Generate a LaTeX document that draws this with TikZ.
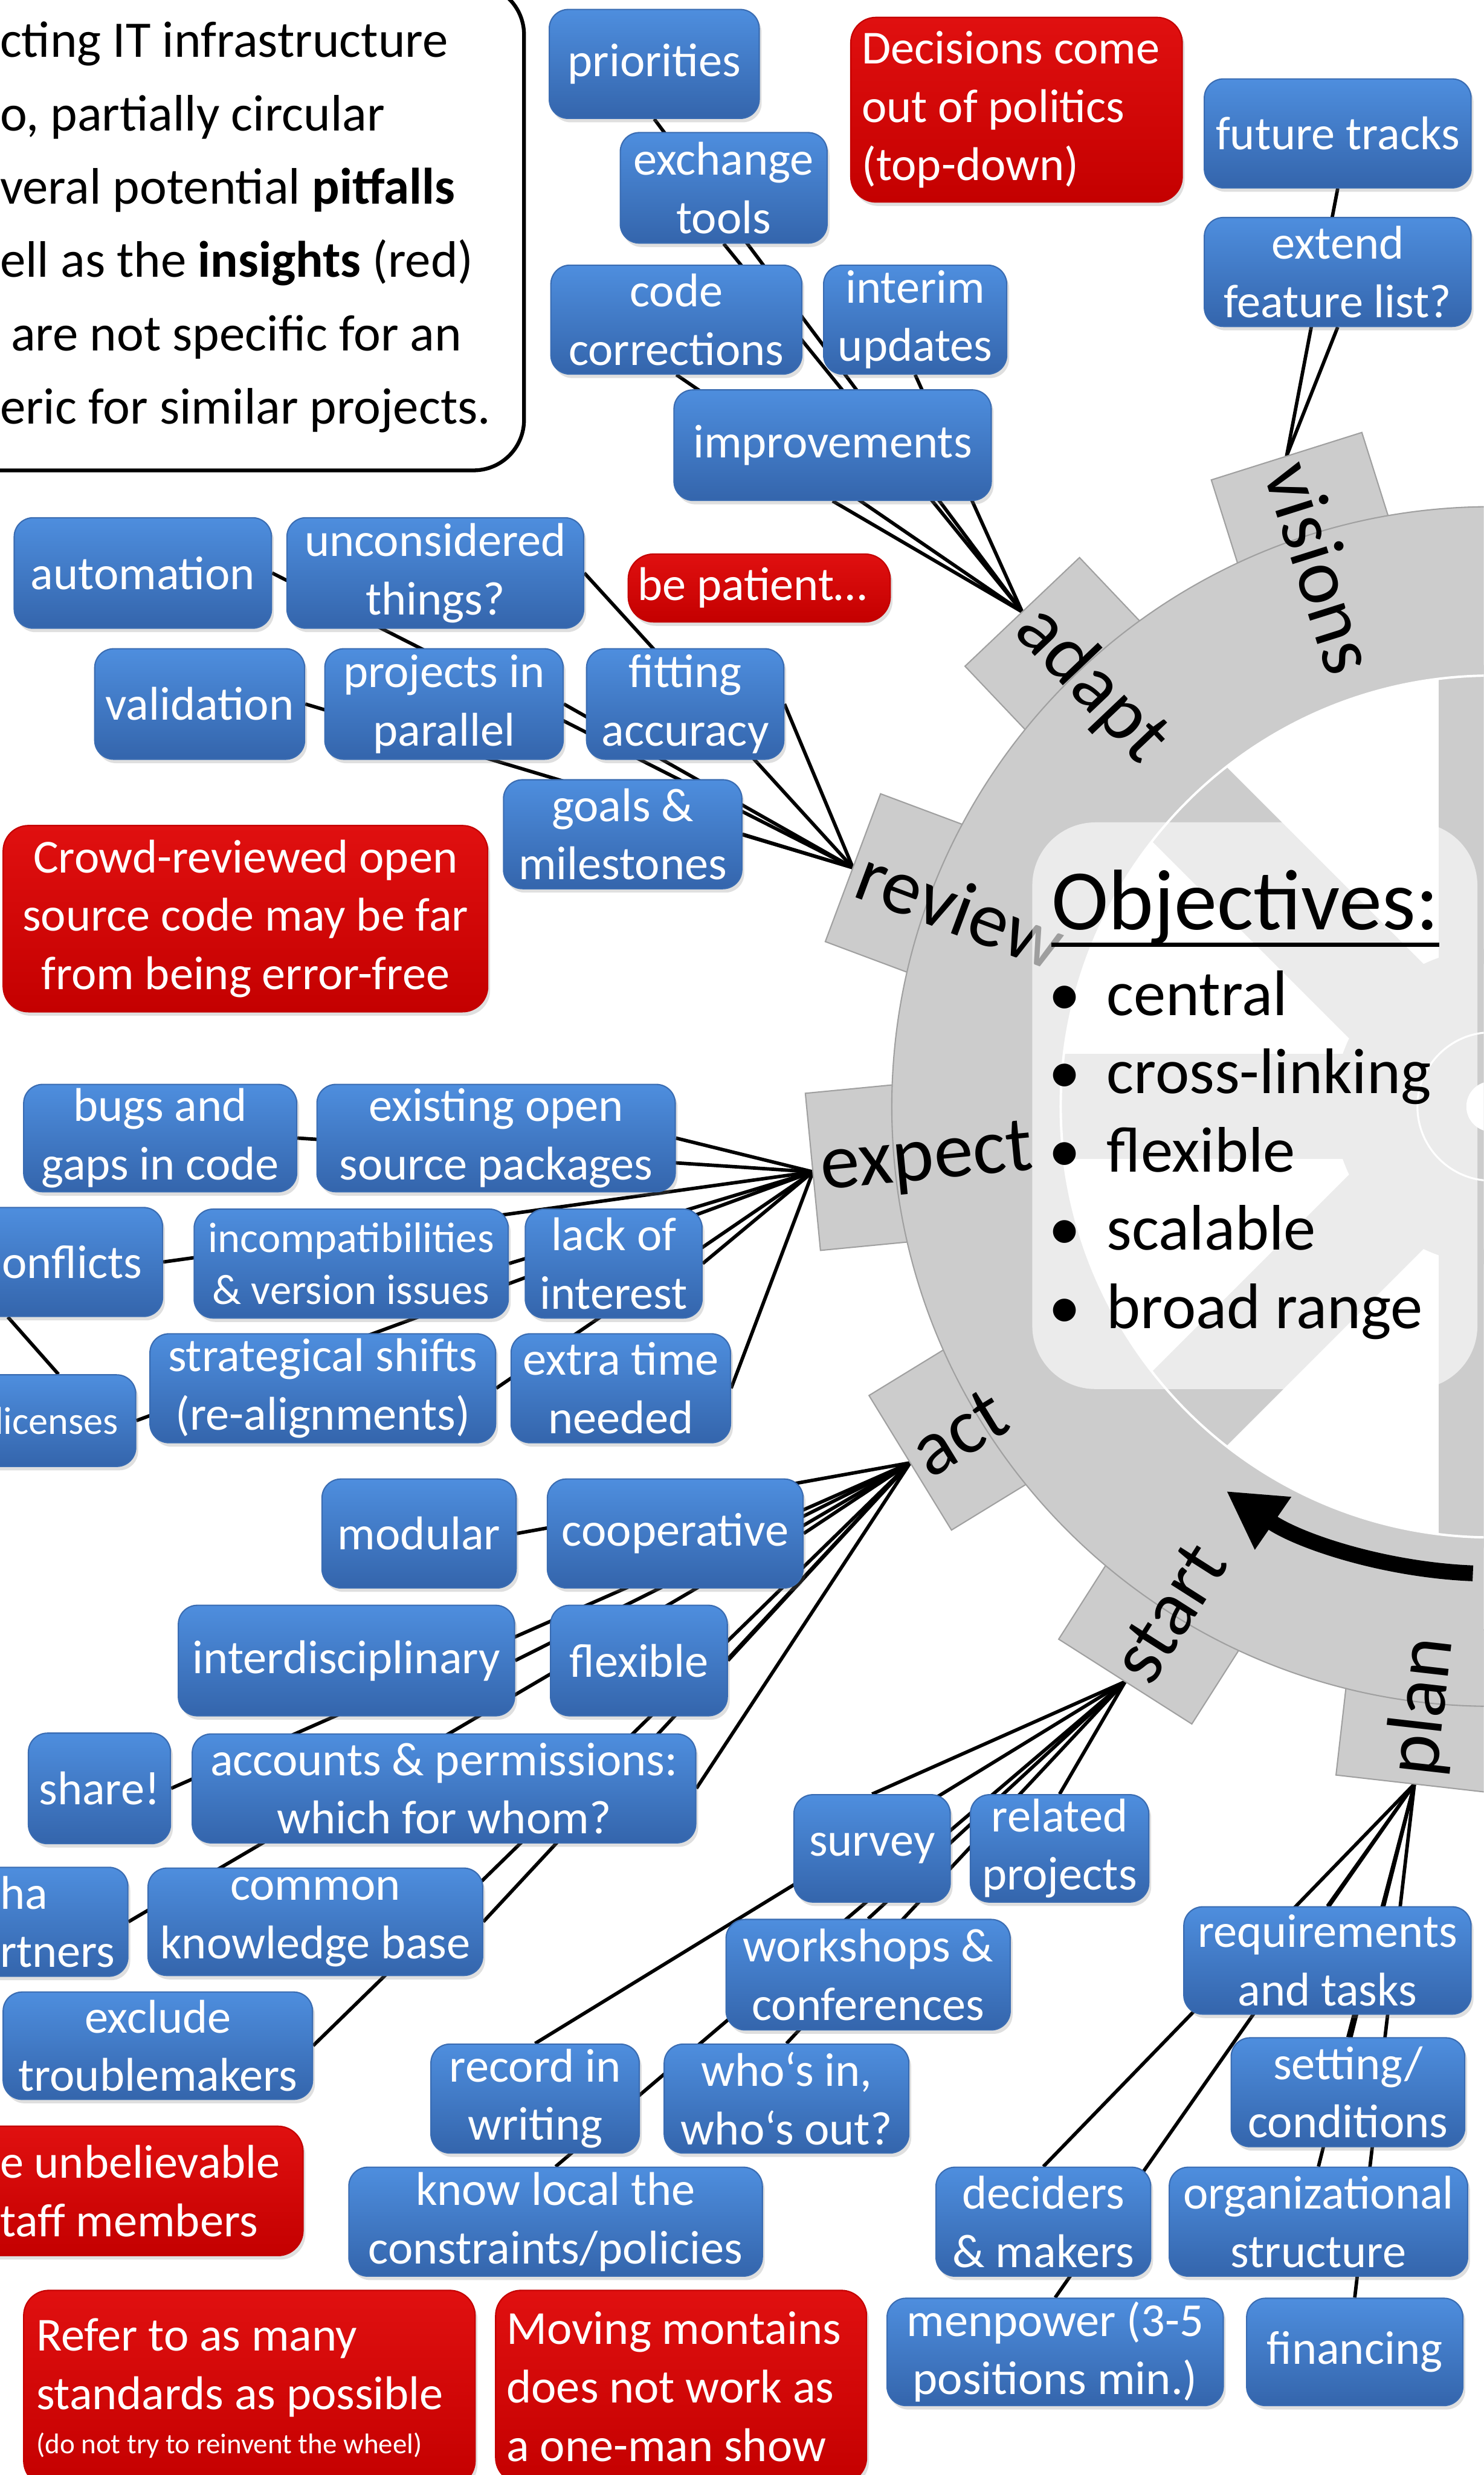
\documentclass[tikz,border=0pt]{standalone}
\usepackage{fontspec}
\setmainfont{Carlito}
\usetikzlibrary{arrows.meta,positioning,backgrounds,shadows}

\definecolor{ideatop}{RGB}{78,142,222}
\definecolor{ideabot}{RGB}{52,101,172}
\definecolor{ideaedge}{RGB}{58,108,178}
\definecolor{insighttop}{RGB}{224,16,16}
\definecolor{insightbot}{RGB}{196,0,0}
\definecolor{gearfill}{RGB}{204,204,204}
\definecolor{gearedge}{RGB}{160,160,160}

\newcommand{\ideafont}{\fontsize{30}{37}\selectfont}

\begin{document}
\begin{tikzpicture}[x=1pt,y=-1pt,
  dims/.style 2 args={minimum width=#1,minimum height=#2},
  idea/.style={rounded corners=12,top color=ideatop,bottom color=ideabot,draw=ideaedge,
    line width=0.8,text=white,align=center,font=\ideafont,inner sep=2,
    drop shadow={shadow xshift=1.5pt,shadow yshift=-2.5pt,opacity=.25}},
  insight/.style={idea,rounded corners=16,top color=insighttop,bottom color=insightbot,draw=insightbot},
  flush/.style={align=left,execute at begin node={\spaceskip=0pt\xspaceskip=0pt\leftskip=#1}},
  flush/.default=0pt,
  note/.style={draw,line width=2.4,fill=white,rounded corners=32,
    font=\fontsize{32.5}{46.5}\selectfont},
  stage/.style={anchor=west,inner xsep=5,inner ysep=0,font=\fontsize{50}{60}\selectfont},
  tooth/.style={fill=gearfill,draw=gearedge,line width=0.8},
  spoke/.style={fill=gearfill,draw=white,line width=1.2},
  panel/.style={fill=white,fill opacity=.62,rounded corners=40,inner sep=0},
  objtitle/.style={inner sep=0,anchor=base west,font=\fontsize{54.5}{60}\selectfont},
  objitem/.style={inner sep=0,anchor=base west,font=\fontsize{40.8}{50}\selectfont},
  turnarrow/.style={line width=10,-{Triangle[length=36pt,width=38pt]}},
  link/.style={line width=2.2}
]
\useasboundingbox (0,0) rectangle (940,1568);
\clip (0,0) rectangle (940,1568);

% the gear
\coordinate (hub) at (945,701);
\foreach \a in {0,45,...,315}
  \draw[spoke,shift={(hub)},rotate=\a] (90,-34) rectangle (280,34);
\fill[gearfill] (hub) circle[radius=100];
\draw[white,line width=1.2] (hub) circle[radius=47];
\fill[white] (hub) circle[radius=16];
\foreach \a in {107.5,133.5,...,263.5}
  \draw[tooth,shift={(hub)},rotate=\a] (330,-50) rectangle (432,50);
\fill[gearfill,even odd rule] (hub) circle[radius=380] (hub) circle[radius=273];
\draw[gearedge,line width=0.8] (hub) circle[radius=380];
\draw[white,line width=1.5] (hub) circle[radius=273];
\draw[turnarrow] ([shift={(-267.7:296)}]hub) arc[start angle=-267.7,end angle=-235.4,radius=296];
\foreach \a/\n in {107.5/visions,133.5/adapt,159.5/review,185.5/expect,211.5/act,237.5/start,263.5/plan}
  \node[stage,rotate=\a-180] (\n) at ([shift={(-\a:432)}]hub) {\n};

% objectives
\node[panel,dims={282}{359}] (panel) at (795,700.5) {};
\node[objtitle] (objtitle) at (666,589) {Objectives:};
\draw[line width=3] (objtitle.south west) -- (objtitle.south east);
\foreach \w [count=\i] in {central,cross-linking,flexible,scalable,broad range}
  \node[objitem] (obj\i) at (664,593.6+49.6*\i) {\makebox[37pt][l]{\textbullet}\w};

\node[note,dims={372}{308},text width=372,inner xsep=0,flush=40pt] (note) at (146,144) {cting IT infrastructure\\
o, partially circular\\
veral potential \textbf{pitfalls}\\
ell as the \textbf{insights} (red)\\
\hspace*{7pt}are not specific for an\\
eric for similar projects.};

% adapt
\node[idea,dims={133}{69}] (priorities) at (414.5,40.5) {priorities};
\node[idea,dims={131}{70}] (exchange) at (458.5,119) {exchange\\tools};
\node[idea,dims={159}{69}] (code) at (428.5,202.5) {code\\corrections};
\node[idea,dims={116}{69},right=13pt of code] (interim) {interim\\updates};
\node[idea,dims={201}{70}] (improvements) at (527.5,282) {improvements};
\node[insight,dims={210}{117},text width=196,inner xsep=7,flush] (politics) at (644,69.5) {Decisions come\\out of politics\\(top-down)};

% visions
\node[idea,dims={169}{69}] (future) at (847.5,84.5) {future tracks};
\node[idea,dims={169}{69},below=18pt of future] (extend) {extend\\feature list?};

% review
\node[idea,dims={163}{70}] (automation) at (90.5,363) {automation};
\node[idea,dims={188}{70},right=9pt of automation] (unconsidered) {unconsidered\\things?};
\node[insight,dims={166}{43},text width=154,inner xsep=6,flush] (patient) at (481,372.5) {be patient…};
\node[idea,dims={133}{70}] (validation) at (126.5,446) {validation};
\node[idea,dims={151}{70},right=12pt of validation] (projects) {projects in\\parallel};
\node[idea,dims={125}{70},right=14pt of projects] (fitting) {fitting\\accuracy};
\node[idea,dims={151}{69}] (goals) at (394.5,528.5) {goals \&\\milestones};
\node[insight,dims={307}{118}] (crowd) at (155.5,582) {Crowd-reviewed open\\source code may be far\\from being error-free};

% expect
\node[idea,dims={173}{68}] (bugs) at (101.5,721) {bugs and\\gaps in code};
\node[idea,dims={227}{68},right=12pt of bugs] (existing) {existing open\\source packages};
\node[idea,dims={143}{69},text width=117,inner xsep=13,align=right] (conflicts) at (31.5,799.5) {onflicts};
\node[idea,dims={199}{69},font=\fontsize{27}{33}\selectfont] (incompat) at (222.5,800.5) {incompatibilities\\\& version issues};
\node[idea,dims={112}{69},right=10pt of incompat] (lack) {lack of\\interest};
\node[idea,dims={126}{58},text width=104,inner xsep=11,align=right,font=\fontsize{24.6}{30}\selectfont] (licenses) at (23,900) {licenses};
\node[idea,dims={219}{69}] (strategical) at (204.5,879.5) {strategical shifts\\(re-alignments)};
\node[idea,dims={139}{69},right=9pt of strategical] (extratime) {extra time\\needed};

% act
\node[idea,dims={123}{69}] (modular) at (265.5,971.5) {modular};
\node[idea,dims={162}{69},right=19pt of modular] (cooperative) {cooperative};
\node[idea,dims={213}{70}] (interdisc) at (219.5,1052) {interdisciplinary};
\node[idea,dims={112}{70},right=22pt of interdisc] (flexible) {flexible};
\node[idea,dims={90}{70}] (share) at (63,1133) {share!};
\node[idea,dims={319}{69},right=13pt of share] (accounts) {accounts \& permissions:\\which for whom?};
\node[idea,dims={121}{69},text width=121,inner xsep=0,flush=40pt] (partners) at (20.5,1217.5) {ha\\rtners};
\node[idea,dims={212}{68},right=12pt of partners] (knowledge) {common\\knowledge base};
\node[idea,dims={196}{68}] (exclude) at (100,1296) {exclude\\troublemakers};
\node[insight,dims={232}{82},text width=232,inner xsep=0,flush=40pt] (staff) at (76,1388) {e unbelievable\\taff members};
\node[insight,dims={286}{124},text width=270,inner xsep=8,flush] (standards) at (158,1513) {Refer to as many\\standards as possible\\[-9pt]{\fontsize{18}{22}\selectfont(do not try to reinvent the wheel)}};
\node[insight,dims={235}{122},text width=221,inner xsep=7,flush] (oneman) at (431.5,1512) {Moving montains\\does not work as\\a one-man show};

% start
\node[idea,dims={99}{68}] (survey) at (552.5,1171) {survey};
\node[idea,dims={113}{68},right=12pt of survey] (related) {related\\projects};
\node[idea,dims={180}{70}] (workshops) at (550,1251) {workshops \&\\conferences};
\node[idea,dims={132}{69}] (record) at (339,1329.5) {record in\\writing};
\node[idea,dims={155}{69},right=15pt of record] (whosin) {who‘s in,\\who‘s out?};
\node[idea,dims={262}{69}] (knowlocal) at (352,1407.5) {know local the\\constraints/policies};

% plan
\node[idea,dims={182}{68}] (requirements) at (841,1242) {requirements\\and tasks};
\node[idea,dims={148}{69}] (setting) at (854,1325.5) {setting/\\conditions};
\node[idea,dims={136}{69}] (deciders) at (661,1407.5) {deciders\\\& makers};
\node[idea,dims={189}{69},right=11pt of deciders] (organizational) {organizational\\structure};
\node[idea,dims={213}{68}] (menpower) at (668.5,1490) {menpower (3-5\\positions min.)};
\node[idea,dims={137}{68},right=14pt of menpower] (financing) {financing};

% connectors behind the boxes
\begin{pgfonlayer}{background}
  \fill[white] (0,0) rectangle (940,1568);
  \foreach \n in {priorities,exchange,code,interim,improvements}
    \draw[link] (\n.south) -- (adapt.west);
  \foreach \n in {future,extend}
    \draw[link] (\n.south) -- (visions.west);
  \foreach \n in {automation,unconsidered,validation,projects,fitting,goals}
    \draw[link] (\n.east) -- (review.west);
  \foreach \n in {bugs,existing,conflicts,incompat,lack,licenses,strategical,extratime}
    \draw[link] (\n.east) -- (expect.west);
  \foreach \n in {modular,cooperative,interdisc,flexible,share,accounts,partners,knowledge,exclude}
    \draw[link] (\n.east) -- (act.west);
  \foreach \n in {survey,related,workshops,record,whosin,knowlocal}
    \draw[link] (\n.north) -- (start.west);
  \foreach \n in {requirements,setting,deciders,organizational,menpower,financing}
    \draw[link] (\n.north) -- (plan.west);
  \draw[link] ([xshift=-26.5pt]conflicts.south) -- ([xshift=14pt]licenses.north);
\end{pgfonlayer}
\end{tikzpicture}
\end{document}
